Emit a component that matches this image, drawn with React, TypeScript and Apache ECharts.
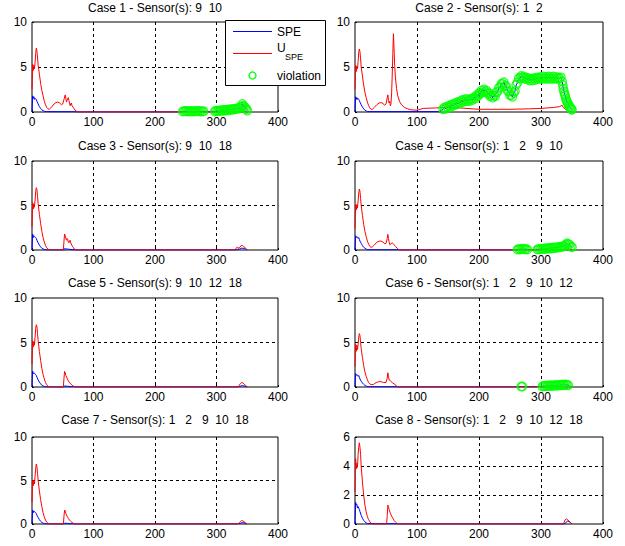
import React, { useEffect, useRef } from 'react';
import * as echarts from 'echarts';

// ---------- data ----------
const titles = [
  'Case 1 - Sensor(s): 9  10',
  'Case 2 - Sensor(s): 1  2',
  'Case 3 - Sensor(s): 9  10  18',
  'Case 4 - Sensor(s): 1   2   9  10',
  'Case 5 - Sensor(s): 9  10  12  18',
  'Case 6 - Sensor(s): 1   2   9  10  12',
  'Case 7 - Sensor(s): 1   2   9  10  18',
  'Case 8 - Sensor(s): 1   2   9  10  12  18',
];
const xMin = 0;
const xMax = 400;
const xInterval = 100;
const yMaxes = [10, 10, 10, 10, 10, 10, 10, 6];
const yIntervals = [5, 5, 5, 5, 5, 5, 5, 2];

// violation points (SPE > U_SPE)
const v1a = [[245,0.05],[247,0.1],[249,0.08],[251,0.12],[253,0.05],[255,0.1],[257,0.06],[259,0.12],[261,0.05],[263,0.1],[265,0.05],[267,0.12],[269,0.08],[271,0.12],[273,0.06],[275,0.1],[277,0.05],[279,0.08]];
const v1b = [[297,0.05],[299,0.15],[301,0.08],[303,0.18],[305,0.1],[307,0.2],[309,0.12],[311,0.22],[313,0.15],[315,0.25],[317,0.18],[319,0.28],[321,0.2],[323,0.3],[325,0.25],[327,0.35],[329,0.28],[331,0.38],[333,0.32],[335,0.45],[337,0.38],[339,0.55],[341,0.6],[342,0.9],[343,0.7],[345,0.65],[347,0.45],[349,0.3],[350,0.15]];
const v2 = [[142,0.3],[144,0.5],[146,0.35],[148,0.6],[150,0.45],[152,0.7],[154,0.55],[156,0.85],[158,0.7],[160,0.95],[162,0.8],[164,1.05],[166,0.9],[168,1.15],[170,1.0],[172,1.3],[174,1.1],[176,1.4],[178,1.2],[180,1.45],[182,1.2],[184,1.4],[186,1.25],[188,1.5],[190,1.35],[192,1.65],[194,1.5],[196,1.85],[198,1.75],[200,2.1],[202,2.0],[204,2.4],[206,2.2],[208,2.5],[210,2.25],[212,2.4],[214,2.05],[216,2.1],[218,1.75],[220,1.85],[222,1.6],[224,1.85],[226,1.75],[228,2.2],[230,2.25],[232,2.7],[234,2.75],[236,3.15],[238,3.1],[240,3.3],[242,2.95],[244,2.85],[246,2.35],[248,2.25],[250,1.85],[252,1.9],[254,1.7],[256,2.1],[258,2.3],[260,3.0],[262,3.25],[264,3.75],[266,3.75],[268,4.0],[270,3.8],[272,3.95],[274,3.7],[276,3.85],[278,3.6],[280,3.75],[282,3.5],[284,3.7],[286,3.5],[288,3.75],[290,3.55],[292,3.8],[294,3.65],[296,3.85],[298,3.7],[300,3.9],[302,3.7],[304,3.95],[306,3.7],[308,3.9],[310,3.7],[312,3.95],[314,3.7],[316,3.9],[318,3.7],[320,3.95],[322,3.7],[324,3.9],[326,3.7],[328,3.85],[330,3.7],[332,3.85],[334,3.4],[335,3.0],[336,2.6],[337,2.3],[338,2.0],[339,1.8],[340,1.5],[341,1.3],[342,1.1],[343,1.0],[344,0.85],[345,0.7],[346,0.6],[347,0.5],[348,0.4],[349,0.3],[350,0.25]];
const v4a = [[262,0.05],[264,0.1],[266,0.06],[268,0.15],[270,0.1],[272,0.15],[274,0.08],[276,0.1],[278,0.05]];
const v4b = [[294,0.05],[296,0.1],[298,0.08],[300,0.15],[302,0.1],[304,0.18],[306,0.12],[308,0.2],[310,0.15],[312,0.22],[314,0.15],[316,0.25],[318,0.2],[320,0.28],[322,0.22],[324,0.3],[326,0.25],[328,0.35],[330,0.3],[332,0.38],[334,0.35],[336,0.45],[338,0.42],[340,0.6],[342,0.75],[344,0.65],[346,0.6],[348,0.4],[350,0.3]];
const v6a = [[268,0.05],[270,0.05]];
const v6b = [[302,0.05],[304,0.12],[306,0.08],[308,0.15],[310,0.1],[312,0.18],[314,0.12],[316,0.2],[318,0.12],[320,0.2],[322,0.15],[324,0.22],[326,0.15],[328,0.22],[330,0.18],[332,0.25],[334,0.2],[336,0.28],[338,0.2],[340,0.28],[342,0.22],[344,0.2]];

// SPE (blue)
const spe1 = [[0,0],[1,1.8],[2,1.5],[3,1.7],[4,1.4],[5,1.5],[6,1.5],[7,1.4],[8,1.2],[10,0.9],[12,0.6],[14,0.4],[16,0.25],[18,0.15],[20,0.08],[23,0.04],[70,0.03],[74,0],[244,0], ...v1a, [281,0.03],[296,0.03], ...v1b];
const spe2 = [[0,0],[1,1.7],[2,1.4],[3,1.6],[4,1.4],[5,1.5],[6,1.4],[7,1.3],[8,1.1],[10,0.8],[12,0.55],[14,0.35],[16,0.2],[18,0.12],[20,0.06],[23,0.04],[135,0.04],[140,0.2], ...v2];
const spe3 = [[0,0],[1,1.8],[2,1.4],[3,1.6],[4,1.5],[5,1.5],[6,1.4],[7,1.3],[8,1.1],[10,0.8],[12,0.55],[14,0.35],[16,0.2],[18,0.12],[20,0.06],[23,0.02],[26,0],[52,0],[53,0.15],[56,0.12],[60,0.08],[65,0.05],[70,0.02],[72,0],[332,0],[335,0.1],[338,0.1],[340,0.2],[343,0.2],[346,0.15],[349,0.05],[350,0]];
const spe4 = [[0,0],[1,1.6],[2,1.4],[3,1.5],[4,1.4],[5,1.3],[6,1.4],[7,1.2],[8,1.0],[10,0.75],[12,0.5],[14,0.3],[16,0.2],[18,0.1],[20,0.05],[23,0.03],[70,0.03],[72,0],[261,0], ...v4a, [280,0.02],[293,0.03], ...v4b];
const spe5 = [[0,0],[1,1.8],[2,1.5],[3,1.6],[4,1.5],[5,1.5],[6,1.4],[7,1.3],[8,1.1],[10,0.8],[12,0.55],[14,0.35],[16,0.2],[18,0.12],[20,0.06],[23,0.02],[26,0],[52,0],[53,0.12],[56,0.1],[60,0.06],[65,0.04],[70,0.02],[72,0],[334,0],[337,0.05],[340,0.12],[343,0.15],[346,0.1],[349,0.04],[350,0]];
const spe6 = [[0,0],[1,1.5],[2,1.3],[3,1.4],[4,1.3],[5,1.2],[6,1.3],[7,1.1],[8,0.9],[10,0.65],[12,0.45],[14,0.3],[16,0.18],[18,0.1],[20,0.05],[23,0.03],[70,0.03],[72,0],[267,0], ...v6a, [272,0.02],[300,0.03], ...v6b, [346,0.1],[350,0]];
const spe7 = [[0,0],[1,1.6],[2,1.3],[3,1.5],[4,1.4],[5,1.4],[6,1.3],[7,1.2],[8,1.0],[10,0.75],[12,0.5],[14,0.3],[16,0.18],[18,0.1],[20,0.05],[23,0.02],[26,0],[52,0],[53,0.1],[56,0.08],[60,0.05],[65,0.03],[70,0.01],[72,0],[334,0],[337,0.05],[340,0.12],[343,0.15],[346,0.1],[349,0.04],[350,0]];
const spe8 = [[0,0],[1,1.5],[2,1.3],[3,1.35],[4,1.1],[5,1.2],[6,1.1],[7,1.0],[8,0.85],[10,0.6],[12,0.4],[14,0.25],[16,0.15],[18,0.08],[20,0.04],[24,0.02],[70,0.02],[72,0],[337,0],[340,0.1],[343,0.2],[346,0.15],[349,0.05],[350,0]];

// U_SPE (red)
const uspe1 = [[0,2.5],[1,5.3],[2,4.6],[3,5.2],[4,4.8],[5,5.5],[6,6.5],[7,7.1],[8,6.8],[9,6.0],[10,5.2],[12,4.2],[14,3.2],[16,2.4],[18,1.8],[20,1.2],[22,0.8],[24,0.5],[26,0.35],[28,0.3],[30,0.4],[33,0.65],[36,0.9],[39,1.05],[42,1.1],[45,1.0],[48,0.8],[50,0.9],[52,1.4],[54,1.9],[55,1.5],[56,1.1],[57,1.3],[59,1.6],[60,1.3],[62,0.7],[63,0.9],[64,1.0],[65,0.7],[67,0.5],[70,0.2],[73,0.05],[76,0],[350,0]];
const uspe2 = [[0,2.5],[1,5.2],[2,4.5],[3,5.1],[4,4.8],[5,5.6],[6,6.6],[7,7.0],[8,6.7],[9,5.9],[10,5.0],[12,4.0],[14,3.0],[16,2.2],[18,1.6],[20,1.1],[22,0.7],[24,0.45],[26,0.3],[28,0.3],[31,0.5],[35,0.8],[39,1.0],[42,1.05],[45,0.95],[48,0.75],[50,0.9],[52,1.6],[53,1.9],[54,1.3],[55,1.0],[56,1.2],[57,0.7],[58,0.9],[59,2.0],[60,4.0],[61,6.5],[62,8.7],[63,7.0],[64,5.2],[65,4.0],[67,2.6],[69,1.8],[72,1.15],[75,0.8],[80,0.5],[85,0.35],[90,0.25],[100,0.2],[105,0.3],[110,0.4],[130,0.45],[145,0.5],[170,0.45],[190,0.35],[200,0.3],[250,0.3],[280,0.35],[300,0.4],[320,0.5],[330,0.6],[334,0.75],[336,0.5],[340,0.3],[345,0.1],[350,0]];
const uspe3 = [[0,2.6],[1,5.3],[2,4.6],[3,5.2],[4,4.8],[5,5.6],[6,6.6],[7,7.0],[8,6.8],[9,6.0],[10,5.2],[12,4.0],[14,3.0],[16,2.1],[18,1.4],[20,0.9],[22,0.5],[24,0.25],[26,0.1],[28,0.02],[30,0],[51,0],[52,1.0],[53,1.8],[54,1.6],[55,1.3],[56,1.1],[57,1.3],[58,1.2],[59,0.9],[60,0.8],[61,1.0],[62,1.1],[63,0.8],[65,0.5],[67,0.3],[69,0.1],[71,0],[330,0],[332,0.2],[334,0.35],[336,0.2],[338,0.3],[340,0.5],[342,0.5],[344,0.4],[346,0.3],[348,0.15],[350,0]];
const uspe4 = [[0,2.4],[1,5.1],[2,4.5],[3,5.1],[4,4.7],[5,5.5],[6,6.4],[7,6.85],[8,6.6],[9,5.8],[10,5.0],[12,3.9],[14,2.9],[16,2.1],[18,1.5],[20,1.0],[22,0.65],[24,0.4],[26,0.3],[28,0.35],[31,0.55],[35,0.85],[39,1.0],[42,1.0],[45,0.9],[48,0.7],[50,0.75],[52,1.3],[53,1.75],[54,1.3],[55,0.9],[56,0.6],[58,0.7],[60,0.8],[62,0.7],[64,0.5],[66,0.35],[68,0.2],[70,0.05],[72,0],[350,0]];
const uspe5 = [[0,2.6],[1,5.2],[2,4.5],[3,5.1],[4,4.7],[5,5.6],[6,6.6],[7,7.0],[8,6.8],[9,6.0],[10,5.2],[12,4.0],[14,3.0],[16,2.1],[18,1.4],[20,0.9],[22,0.5],[24,0.25],[26,0.1],[28,0.02],[30,0],[51,0],[52,1.0],[53,1.75],[54,1.6],[55,1.3],[57,1.0],[59,0.7],[61,0.5],[63,0.35],[65,0.2],[67,0.1],[70,0.02],[72,0],[335,0],[337,0.2],[339,0.4],[341,0.5],[343,0.45],[345,0.3],[347,0.2],[349,0.1],[350,0]];
const uspe6 = [[0,2.3],[1,4.8],[2,4.0],[3,4.7],[4,4.2],[5,4.8],[6,5.6],[7,6.0],[8,5.8],[9,5.0],[10,4.3],[12,3.3],[14,2.4],[16,1.7],[18,1.2],[20,0.8],[22,0.5],[24,0.35],[26,0.25],[30,0.3],[34,0.5],[38,0.6],[42,0.6],[46,0.5],[50,0.5],[52,1.0],[53,1.6],[54,1.2],[55,0.8],[57,0.7],[60,0.5],[63,0.35],[66,0.2],[68,0.05],[70,0],[350,0]];
const uspe7 = [[0,2.5],[1,5.0],[2,4.4],[3,5.0],[4,4.6],[5,5.5],[6,6.4],[7,6.9],[8,6.6],[9,5.8],[10,5.0],[12,3.8],[14,2.8],[16,2.0],[18,1.3],[20,0.8],[22,0.45],[24,0.2],[26,0.08],[28,0.02],[30,0],[51,0],[52,0.9],[53,1.6],[54,1.5],[55,1.2],[57,0.9],[59,0.65],[61,0.45],[63,0.3],[65,0.18],[67,0.08],[70,0.02],[72,0],[335,0],[337,0.15],[339,0.3],[341,0.4],[343,0.35],[345,0.25],[347,0.15],[349,0.05],[350,0]];
const uspe8 = [[0,2.2],[1,4.5],[2,3.8],[3,4.2],[4,3.9],[5,4.8],[6,5.3],[7,5.6],[8,5.3],[9,4.8],[10,4.0],[12,2.9],[14,2.0],[16,1.3],[18,0.85],[20,0.5],[22,0.3],[24,0.15],[26,0.05],[28,0],[51,0],[52,0.6],[53,1.3],[54,1.2],[55,1.0],[57,0.75],[59,0.55],[61,0.4],[63,0.25],[65,0.15],[67,0.07],[69,0.02],[71,0],[335,0],[337,0.1],[339,0.3],[341,0.35],[343,0.3],[345,0.2],[347,0.1],[349,0.03],[350,0]];

const speSeries = [spe1, spe2, spe3, spe4, spe5, spe6, spe7, spe8];
const uspeSeries = [uspe1, uspe2, uspe3, uspe4, uspe5, uspe6, uspe7, uspe8];
const violationSeries = [[...v1a, ...v1b], v2, [], [...v4a, ...v4b], [], [...v6a, ...v6b], [], []];

// ---------- layout ----------
const colLeft = [32, 355];
const colWidth = [246, 248];
const rowTop = [22, 161, 298, 437];
const rowHeight = [90, 89, 89, 87];
const titleCenterY = [8, 146, 283, 420];
const FONT = 'Liberation Sans, Arial, Helvetica, sans-serif';

export default function App() {
  const ref = useRef<HTMLDivElement>(null);
  useEffect(() => {
    if (!ref.current) return;
    const chart = echarts.init(ref.current, null, { renderer: 'svg' });
    const grid: any[] = [];
    const xAxis: any[] = [];
    const yAxis: any[] = [];
    const title: any[] = [];
    const series: any[] = [];
    for (let i = 0; i < 8; i++) {
      const row = Math.floor(i / 2);
      const col = i % 2;
      grid.push({
        left: colLeft[col], top: rowTop[row], width: colWidth[col], height: rowHeight[row],
        show: true, borderColor: '#000', borderWidth: 1, backgroundColor: '#fff', containLabel: false,
      });
      title.push({
        text: titles[i], left: colLeft[col] + colWidth[col] / 2, top: titleCenterY[row] - 7,
        textAlign: 'center', padding: 0,
        textStyle: { fontSize: 12, fontWeight: 'normal', color: '#000', fontFamily: FONT, lineHeight: 14 },
      });
      const splitStyle = { color: '#000', type: [3, 3], width: 1 };
      xAxis.push({
        type: 'value', gridIndex: i, min: xMin, max: xMax, interval: xInterval,
        axisLine: { show: false },
        axisTick: { show: true, inside: true, length: 2, lineStyle: { color: '#000' } },
        axisLabel: { color: '#000', fontSize: 12, fontFamily: FONT, margin: 4 },
        splitLine: { show: true, showMinLine: false, showMaxLine: false, lineStyle: splitStyle },
      });
      yAxis.push({
        type: 'value', gridIndex: i, min: 0, max: yMaxes[i], interval: yIntervals[i],
        axisLine: { show: false },
        axisTick: { show: true, inside: true, length: 2, lineStyle: { color: '#000' } },
        axisLabel: { color: '#000', fontSize: 12, fontFamily: FONT, margin: 5 },
        splitLine: { show: true, showMinLine: false, showMaxLine: false, lineStyle: splitStyle },
      });
      series.push({
        name: 'SPE', type: 'line', xAxisIndex: i, yAxisIndex: i, data: speSeries[i],
        symbol: 'none', lineStyle: { color: '#0000ff', width: 1 }, itemStyle: { color: '#0000ff' }, z: 2,
      });
      series.push({
        name: 'U_SPE', type: 'line', xAxisIndex: i, yAxisIndex: i, data: uspeSeries[i],
        symbol: 'none', lineStyle: { color: '#ff0000', width: 1 }, itemStyle: { color: '#ff0000' }, z: 3,
      });
      if (violationSeries[i].length) {
        series.push({
          name: 'violation', type: 'scatter', xAxisIndex: i, yAxisIndex: i, data: violationSeries[i],
          symbol: 'circle', symbolSize: 8.5,
          itemStyle: { color: 'rgba(0,0,0,0)', borderColor: '#00ff00', borderWidth: 1.3 }, z: 4,
        });
      }
    }
    const legend = {
      type: 'group', children: [
        { type: 'rect', z: 100, shape: { x: 225.5, y: 20.5, width: 100, height: 65 }, style: { fill: '#fff', stroke: '#000', lineWidth: 1 } },
        { type: 'polyline', z: 101, shape: { points: [[233, 31.5], [272, 31.5]] }, style: { stroke: 'rgb(0,0,255)', fill: null, lineWidth: 1.2 } },
        { type: 'text', z: 101, x: 277, y: 32, style: { text: 'SPE', fill: '#000', fontSize: 12, fontFamily: FONT, verticalAlign: 'middle', align: 'left' } },
        { type: 'polyline', z: 101, shape: { points: [[233, 53.5], [272, 53.5]] }, style: { stroke: 'rgb(255,0,0)', fill: null, lineWidth: 1.2 } },
        { type: 'text', z: 101, x: 277, y: 48, style: { text: 'U', fill: '#000', fontSize: 12, fontFamily: FONT, verticalAlign: 'middle', align: 'left' } },
        { type: 'text', z: 101, x: 285, y: 56.5, style: { text: 'SPE', fill: '#000', fontSize: 9, fontFamily: FONT, verticalAlign: 'middle', align: 'left' } },
        { type: 'circle', z: 101, shape: { cx: 252.5, cy: 75.5, r: 3.5 }, style: { fill: 'none', stroke: '#00ff00', lineWidth: 1.3 } },
        { type: 'text', z: 101, x: 277, y: 75.5, style: { text: 'violation', fill: '#000', fontSize: 12, fontFamily: FONT, verticalAlign: 'middle', align: 'left' } },
      ],
    };
    chart.setOption({
      animation: false,
      backgroundColor: '#fff',
      title, grid, xAxis, yAxis, series,
      graphic: [legend],
    });
    return () => chart.dispose();
  }, []);
  return <div ref={ref} style={{ position: 'fixed', left: 0, top: 0, width: 625, height: 546 }} />;
}
